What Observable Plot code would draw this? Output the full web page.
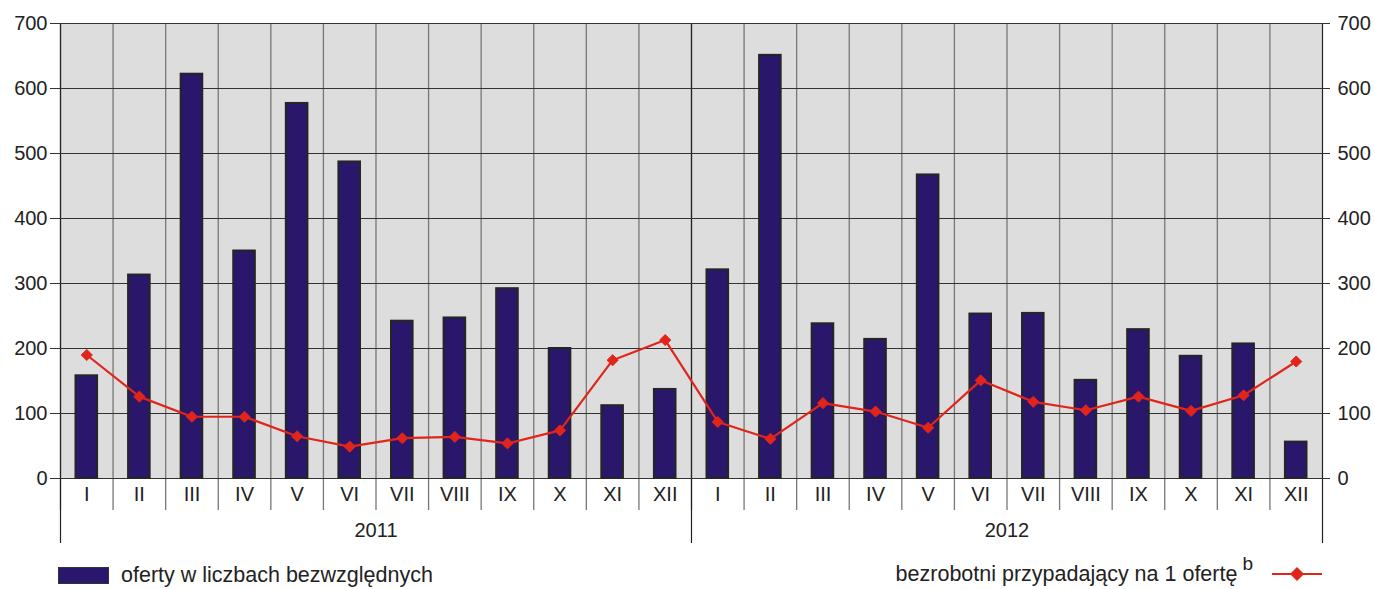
<!DOCTYPE html>
<html>
<head>
<meta charset="utf-8">
<script src="https://cdn.jsdelivr.net/npm/d3@7"></script>
<script src="https://cdn.jsdelivr.net/npm/@observablehq/plot@0.6"></script>
<style>
  html, body { margin: 0; padding: 0; background: #fff; }
  body { width: 1375px; height: 589px; overflow: hidden; font-family: "Liberation Sans", Arial, sans-serif; }
  #legend { position: relative; height: 34px; font-size: 21.5px; color: #222; line-height: 24px; }
  .lg-left { position: absolute; left: 58px; top: 8px; display: flex; align-items: center; }
  .sw-bar { width: 49px; height: 15px; background: #2a176b; border: 1px solid #333; margin-right: 12px; }
  .lg-right { position: absolute; right: 52px; top: 7px; display: flex; align-items: center; }
  .lg-right sup { font-size: 19px; line-height: 0; vertical-align: 11px; margin-left: 5px; }
  .sw-line { margin-left: 18px; }
</style>
</head>
<body>
<div id="chart"></div>
<div id="legend">
  <div class="lg-left"><div class="sw-bar"></div><span>oferty w liczbach bezwzględnych</span></div>
  <div class="lg-right"><span>bezrobotni przypadający na 1 ofertę<sup>b</sup></span>
    <svg class="sw-line" width="52" height="20"><line x1="1" y1="10" x2="51" y2="10" stroke="#e1251b" stroke-width="2"/><path d="M26,3 L33,10 L26,17 L19,10 Z" fill="#e1251b"/></svg>
  </div>
</div>
<script>
const months = ["I","II","III","IV","V","VI","VII","VIII","IX","X","XI","XII"];
const years = ["2011", "2012"];
const oferty2011 = [158, 313, 622, 350, 577, 487, 242, 247, 292, 200, 112, 137];
const oferty2012 = [321, 651, 238, 214, 467, 253, 254, 151, 229, 188, 207, 56];
const bezrob2011 = [190, 126, 95, 95, 65, 49, 62, 64, 54, 74, 182, 213];
const bezrob2012 = [87, 61, 116, 103, 78, 151, 118, 105, 126, 104, 128, 180];
const yTicks = [0, 100, 200, 300, 400, 500, 600, 700];

const ofertySeries = [oferty2011, oferty2012];
const bezrobSeries = [bezrob2011, bezrob2012];
const rows = years.flatMap((yr, yi) => months.map((m, mi) => ({
  year: yr, month: m, i: yi * 12 + mi,
  oferty: ofertySeries[yi][mi], bezrob: bezrobSeries[yi][mi]
})));
const yearRows = years.map((yr, yi) => ({year: yr, start: yi * 12, end: yi * 12 + 12}));
const yearBounds = [0, ...yearRows.map(d => d.end)];

const red = "#e1251b";
const navy = "#2a176b";

const chart = Plot.plot({
  width: 1375,
  height: 555,
  marginTop: 23,
  marginBottom: 77,
  marginLeft: 60,
  marginRight: 53,
  style: {fontFamily: "'Liberation Sans', Arial, sans-serif", fontSize: "20px", color: "#222", background: "#fff"},
  x: {type: "linear", domain: [0, rows.length], axis: null},
  y: {domain: [0, 700], axis: null},
  marks: [
    Plot.frame({fill: "#dddddd", stroke: null}),
    // vertical grid / month separators
    Plot.ruleX(rows, {x: "i", stroke: "#777", strokeWidth: 1.3, insetBottom: -32}),
    // year separators
    Plot.ruleX(yearBounds, {stroke: "#222", strokeWidth: 1.2, insetBottom: -65}),
    // horizontal grid
    Plot.ruleY(yTicks, {stroke: "#333", strokeWidth: 1.2, insetLeft: -10, insetRight: -8}),
    Plot.axisY({anchor: "left", ticks: yTicks, tickSize: 0, tickPadding: 13, fontSize: 20, tickFormat: d => d}),
    Plot.axisY({anchor: "right", ticks: yTicks, tickSize: 0, tickPadding: 15, fontSize: 20, tickFormat: d => d}),
    // bars
    Plot.rectY(rows, {x1: "i", x2: d => d.i + 1, y: "oferty", insetLeft: 15.5, insetRight: 15.5,
      fill: navy, stroke: "#252525", strokeWidth: 2}),
    // line
    Plot.line(rows, {x: d => d.i + 0.5, y: "bezrob", stroke: red, strokeWidth: 2.2}),
    Plot.dot(rows, {x: d => d.i + 0.5, y: "bezrob", symbol: "diamond2", r: 5, fill: red, stroke: red, strokeWidth: 1}),
    // month labels
    Plot.text(rows, {x: d => d.i + 0.5, text: "month", frameAnchor: "bottom", dy: 22, fontSize: 20, fill: "#222"}),
    // year labels
    Plot.text(yearRows, {x: d => (d.start + d.end) / 2, text: "year", frameAnchor: "bottom", dy: 58, fontSize: 20, fill: "#222"})
  ]
});
document.getElementById("chart").append(chart);
</script>
</body>
</html>
